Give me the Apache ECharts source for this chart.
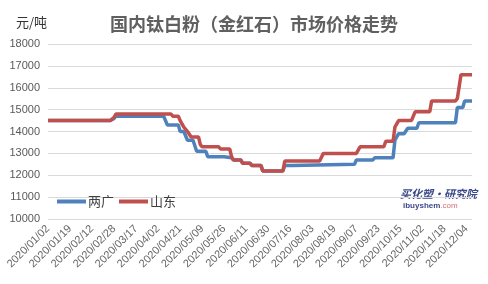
<!DOCTYPE html>
<html><head><meta charset="utf-8">
<script src="https://cdn.jsdelivr.net/npm/echarts@6/dist/echarts.min.js"></script>
<style>html,body{margin:0;padding:0;background:#fff}#c{width:488px;height:284px}</style>
</head><body><div id="c"></div>
<script>
// x tick labels every 12 trading days (index = trading-day number)
var tickLabels = ['2020/01/02','2020/01/19','2020/02/12','2020/02/28','2020/03/17','2020/04/02','2020/04/21','2020/05/09','2020/05/26','2020/06/11','2020/06/30','2020/07/16','2020/08/03','2020/08/19','2020/09/07','2020/09/23','2020/10/15','2020/11/02','2020/11/18','2020/12/04'];
var seriesNames = ['两广','山东'];
// [trading-day index, price] at each change point
var lianguang = [[0,14500],[34,14500],[36,14600],[37,14700],[63,14700],[65,14300],[71,14300],[72,14000],[74,14000],[76,13600],[79,13600],[81,13100],[86,13100],[87,12850],[96,12850],[97,12800],[100,12800],[101,12700],[105,12700],[106,12550],[110,12550],[111,12450],[116,12450],[117,12200],[128,12200],[129,12450],[133,12450],[134,12500],[167,12500],[168,12700],[177,12700],[178,12800],[188,12800],[189,13600],[191,13900],[194,13900],[196,14150],[201,14150],[202,14400],[222,14400],[223,15100],[226,15100],[227,15400],[231,15400]];
var shandong = [[0,14500],[34,14500],[36,14650],[37,14800],[67,14800],[68,14700],[71,14700],[72,14500],[74,14200],[76,14000],[78,13750],[82,13750],[83,13400],[84,13300],[93,13300],[94,13200],[99,13200],[100,12850],[101,12700],[105,12700],[106,12550],[110,12550],[111,12450],[116,12450],[117,12200],[128,12200],[129,12650],[148,12650],[150,13000],[168,13000],[170,13300],[183,13300],[184,13550],[188,13550],[189,14200],[190,14200],[191,14500],[198,14500],[200,14900],[208,14900],[209,15400],[222,15400],[223,15500],[224,15500],[225,16600],[231,16600]];

var chart = echarts.init(document.getElementById('c'), null, {renderer:'canvas'});
chart.setOption({
  animation:false,
  backgroundColor:'#fff',
  title:{text:'国内钛白粉（金红石）市场价格走势',left:249,textAlign:'center',top:10,
    textStyle:{fontFamily:'Noto Sans CJK SC',fontSize:18,fontWeight:'bold',color:'#606060'}},
  graphic:[
    {type:'text',left:16,top:16,style:{text:'元/吨',fontFamily:'Noto Sans CJK SC',fontSize:13,fill:'#333'}},
    {type:'text',left:400,top:188,style:{text:'买化塑·研究院',fontFamily:'Noto Sans CJK SC',fontSize:11,fontWeight:'bold',fontStyle:'italic',fill:'#3b4a8a'}},
    {type:'text',left:403,top:202,style:{rich:{a:{fontFamily:'Arial',fontSize:8,fontWeight:'bold',fill:'#3b4a8a'},b:{fontFamily:'Arial',fontSize:8,fill:'#d07070'}},text:'{a|ibuyshem}{b|.com}'}}
  ],
  legend:{left:52,top:190,icon:'rect',itemWidth:29,itemHeight:4,itemGap:5,
    data:seriesNames,textStyle:{fontFamily:'Noto Sans CJK SC',fontSize:13,color:'#404040',padding:[0,0,0,-3]}},
  grid:{left:48,right:16,top:44,bottom:65},
  xAxis:{type:'value',min:0,max:231,interval:12,
    axisLine:{show:false},axisTick:{show:false},splitLine:{show:false},
    axisLabel:{rotate:45,margin:8,fontFamily:'Liberation Sans',fontSize:11,color:'#666',showMaxLabel:false,
      formatter:function(v){return (v%12===0 && tickLabels[v/12])?tickLabels[v/12]:'';}}},
  yAxis:{type:'value',min:10000,max:18000,interval:1000,
    axisLine:{show:false},axisTick:{show:false},
    splitLine:{lineStyle:{color:'#d9d9d9',width:1}},
    axisLabel:{margin:8,fontFamily:'Liberation Sans',fontSize:11,color:'#595959',formatter:function(v){return String(v);}}},
  series:[
    {name:seriesNames[0],type:'line',data:lianguang,showSymbol:false,symbol:'none',
      lineStyle:{color:'#4f81bd',width:3.5},itemStyle:{color:'#4f81bd'}},
    {name:seriesNames[1],type:'line',data:shandong,showSymbol:false,symbol:'none',
      lineStyle:{color:'#c0504d',width:3.5},itemStyle:{color:'#c0504d'}}
  ]
});
</script></body></html>
